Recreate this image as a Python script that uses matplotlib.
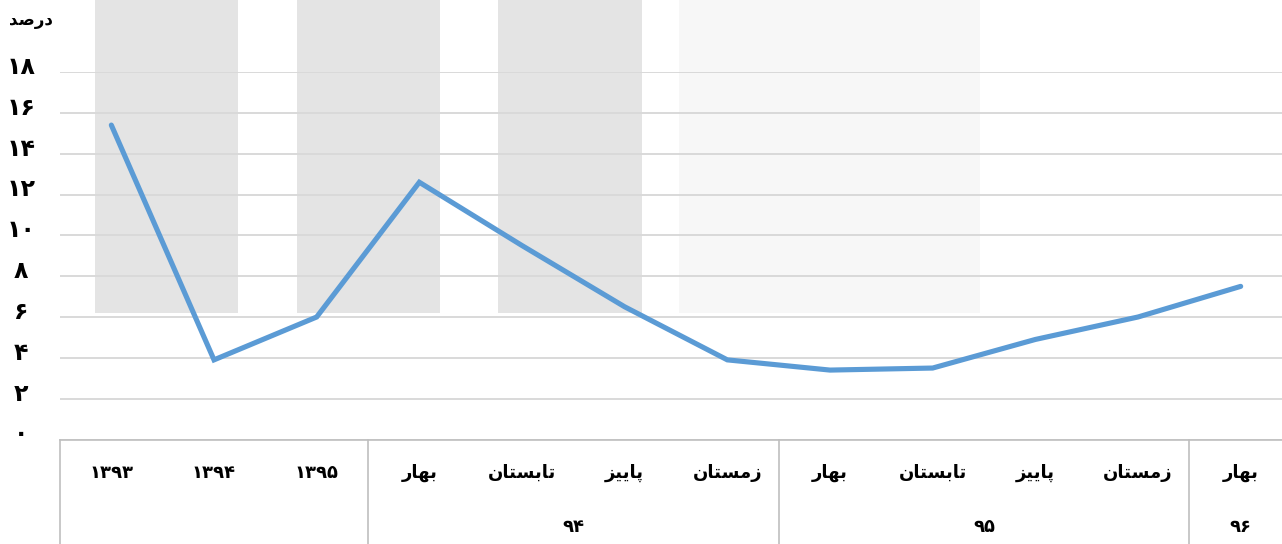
"""
Percentage series for 1393-1395 (yearly) and the seasons of 94-96,
drawn with a two-level category axis in the Excel style.
"""
import matplotlib

matplotlib.use("Agg")
import matplotlib.pyplot as plt
from matplotlib.patches import Rectangle
from matplotlib.transforms import ScaledTranslation, blended_transform_factory

categories = ["۱۳۹۳", "۱۳۹۴", "۱۳۹۵",
              "بهار", "تابستان", "پاییز", "زمستان",
              "بهار", "تابستان", "پاییز", "زمستان",
              "بهار"]
values = [15.4, 3.9, 6.0, 12.6, 9.5, 6.5, 3.9, 3.4, 3.5, 4.9, 6.0, 7.5]

groups = ["۹۴", "۹۵", "۹۶"]
group_spans = [(3, 6), (7, 10), (11, 11)]

y_ticks = [0, 2, 4, 6, 8, 10, 12, 14, 16, 18]
y_tick_labels = ["۰", "۲", "۴", "۶", "۸", "۱۰", "۱۲", "۱۴", "۱۶", "۱۸"]
y_title = "درصد"

# minimal Persian shaping: matplotlib has no bidi / joining support
FORMS = {  # isolated, final, initial, medial
    "ا": ("\uFE8D", "\uFE8E", None, None),
    "د": ("\uFEA9", "\uFEAA", None, None),
    "ر": ("\uFEAD", "\uFEAE", None, None),
    "ز": ("\uFEAF", "\uFEB0", None, None),
    "ب": ("\uFE8F", "\uFE90", "\uFE91", "\uFE92"),
    "ت": ("\uFE95", "\uFE96", "\uFE97", "\uFE98"),
    "س": ("\uFEB1", "\uFEB2", "\uFEB3", "\uFEB4"),
    "ص": ("\uFEB9", "\uFEBA", "\uFEBB", "\uFEBC"),
    "م": ("\uFEE1", "\uFEE2", "\uFEE3", "\uFEE4"),
    "ن": ("\uFEE5", "\uFEE6", "\uFEE7", "\uFEE8"),
    "ه": ("\uFEE9", "\uFEEA", "\uFEEB", "\uFEEC"),
    "پ": ("\uFB56", "\uFB57", "\uFB58", "\uFB59"),
    "ی": ("\uFBFC", "\uFBFD", "\uFBFE", "\uFBFF"),
}


def joins_next(ch):
    return ch in FORMS and FORMS[ch][2] is not None


def shape(word):
    if not any(ch in FORMS for ch in word):
        return word
    out = []
    for i, ch in enumerate(word):
        if ch not in FORMS:
            out.append(ch)
            continue
        prev = word[i - 1] if i > 0 else ""
        nxt = word[i + 1] if i + 1 < len(word) else ""
        jp = joins_next(prev)
        jn = joins_next(ch) and nxt in FORMS
        iso, fin, ini, med = FORMS[ch]
        if jp and jn:
            out.append(med)
        elif jp:
            out.append(fin)
        elif jn:
            out.append(ini)
        else:
            out.append(iso)
    return "".join(reversed(out))


W, H = 1282, 544
plt.rcParams["font.family"] = ["DejaVu Sans"]
fig = plt.figure(figsize=(W / 100, H / 100), dpi=100)

# faint watermark behind the plot
for x0, x1, c in [(95, 238, "#e4e4e4"), (297, 440, "#e4e4e4"),
                  (498, 642, "#e4e4e4"), (679, 980, "#f7f7f7")]:
    fig.patches.append(Rectangle((x0 / W, 1 - 313 / H), (x1 - x0) / W, 313 / H,
                                 transform=fig.transFigure, color=c, lw=0, zorder=-1))

ax_left, ax_right, ax_bottom, ax_top = 60, 1292, 439.5, 72
ax = fig.add_axes([ax_left / W, 1 - ax_bottom / H, (ax_right - ax_left) / W, (ax_bottom - ax_top) / H])
ax.set_facecolor("none")

x = list(range(len(values)))
ax.plot(x, values, color="#5b9bd5", lw=3.7, solid_capstyle="round", solid_joinstyle="miter", zorder=3)

ax.set_xlim(-0.5, len(values) - 0.5)
ax.set_ylim(0, 18)
ax.set_yticks(y_ticks)
ax.set_yticklabels([])
ax.tick_params(axis="y", length=0)
ax.grid(axis="y", color="#d9d9d9", lw=1.4)
ax.set_axisbelow(True)
ax.set_xticks([])
for s in ["left", "right", "top"]:
    ax.spines[s].set_visible(False)
ax.spines["bottom"].set_color("#bfbfbf")
ax.spines["bottom"].set_linewidth(1.2)

# y labels sit a little above their gridlines, centred in the left margin
ylab_trans = blended_transform_factory(fig.transFigure, ax.transData) + \
    ScaledTranslation(0, 5 / 100, fig.dpi_scale_trans)
for v, lab in zip(y_ticks, y_tick_labels):
    ax.text(21 / W, v, lab, transform=ylab_trans, ha="center", va="center",
            fontsize=17, fontweight="bold", clip_on=False)

trans = blended_transform_factory(ax.transData, ax.transAxes)
ax_h = ax_bottom - ax_top
row1 = (ax_bottom - 473) / ax_h
row2 = (ax_bottom - 527) / ax_h
bottom_edge = (ax_bottom - H - 5) / ax_h

for i, c in enumerate(categories):
    ax.text(i, row1, shape(c), transform=trans, ha="center", va="center",
            fontsize=13, fontweight="bold")

for g, (a, b) in zip(groups, group_spans):
    ax.text((a + b) / 2, row2, shape(g), transform=trans, ha="center", va="center",
            fontsize=13, fontweight="bold")

for xs in [-0.5, 2.5, 6.5, 10.5]:
    ax.plot([xs, xs], [0, bottom_edge], transform=trans, color="#bfbfbf", lw=1.2, clip_on=False)

fig.text(31 / W, 1 - 20 / H, shape(y_title), ha="center", va="center", fontsize=12, fontweight="bold")

fig.savefig("out.png", dpi=100)
